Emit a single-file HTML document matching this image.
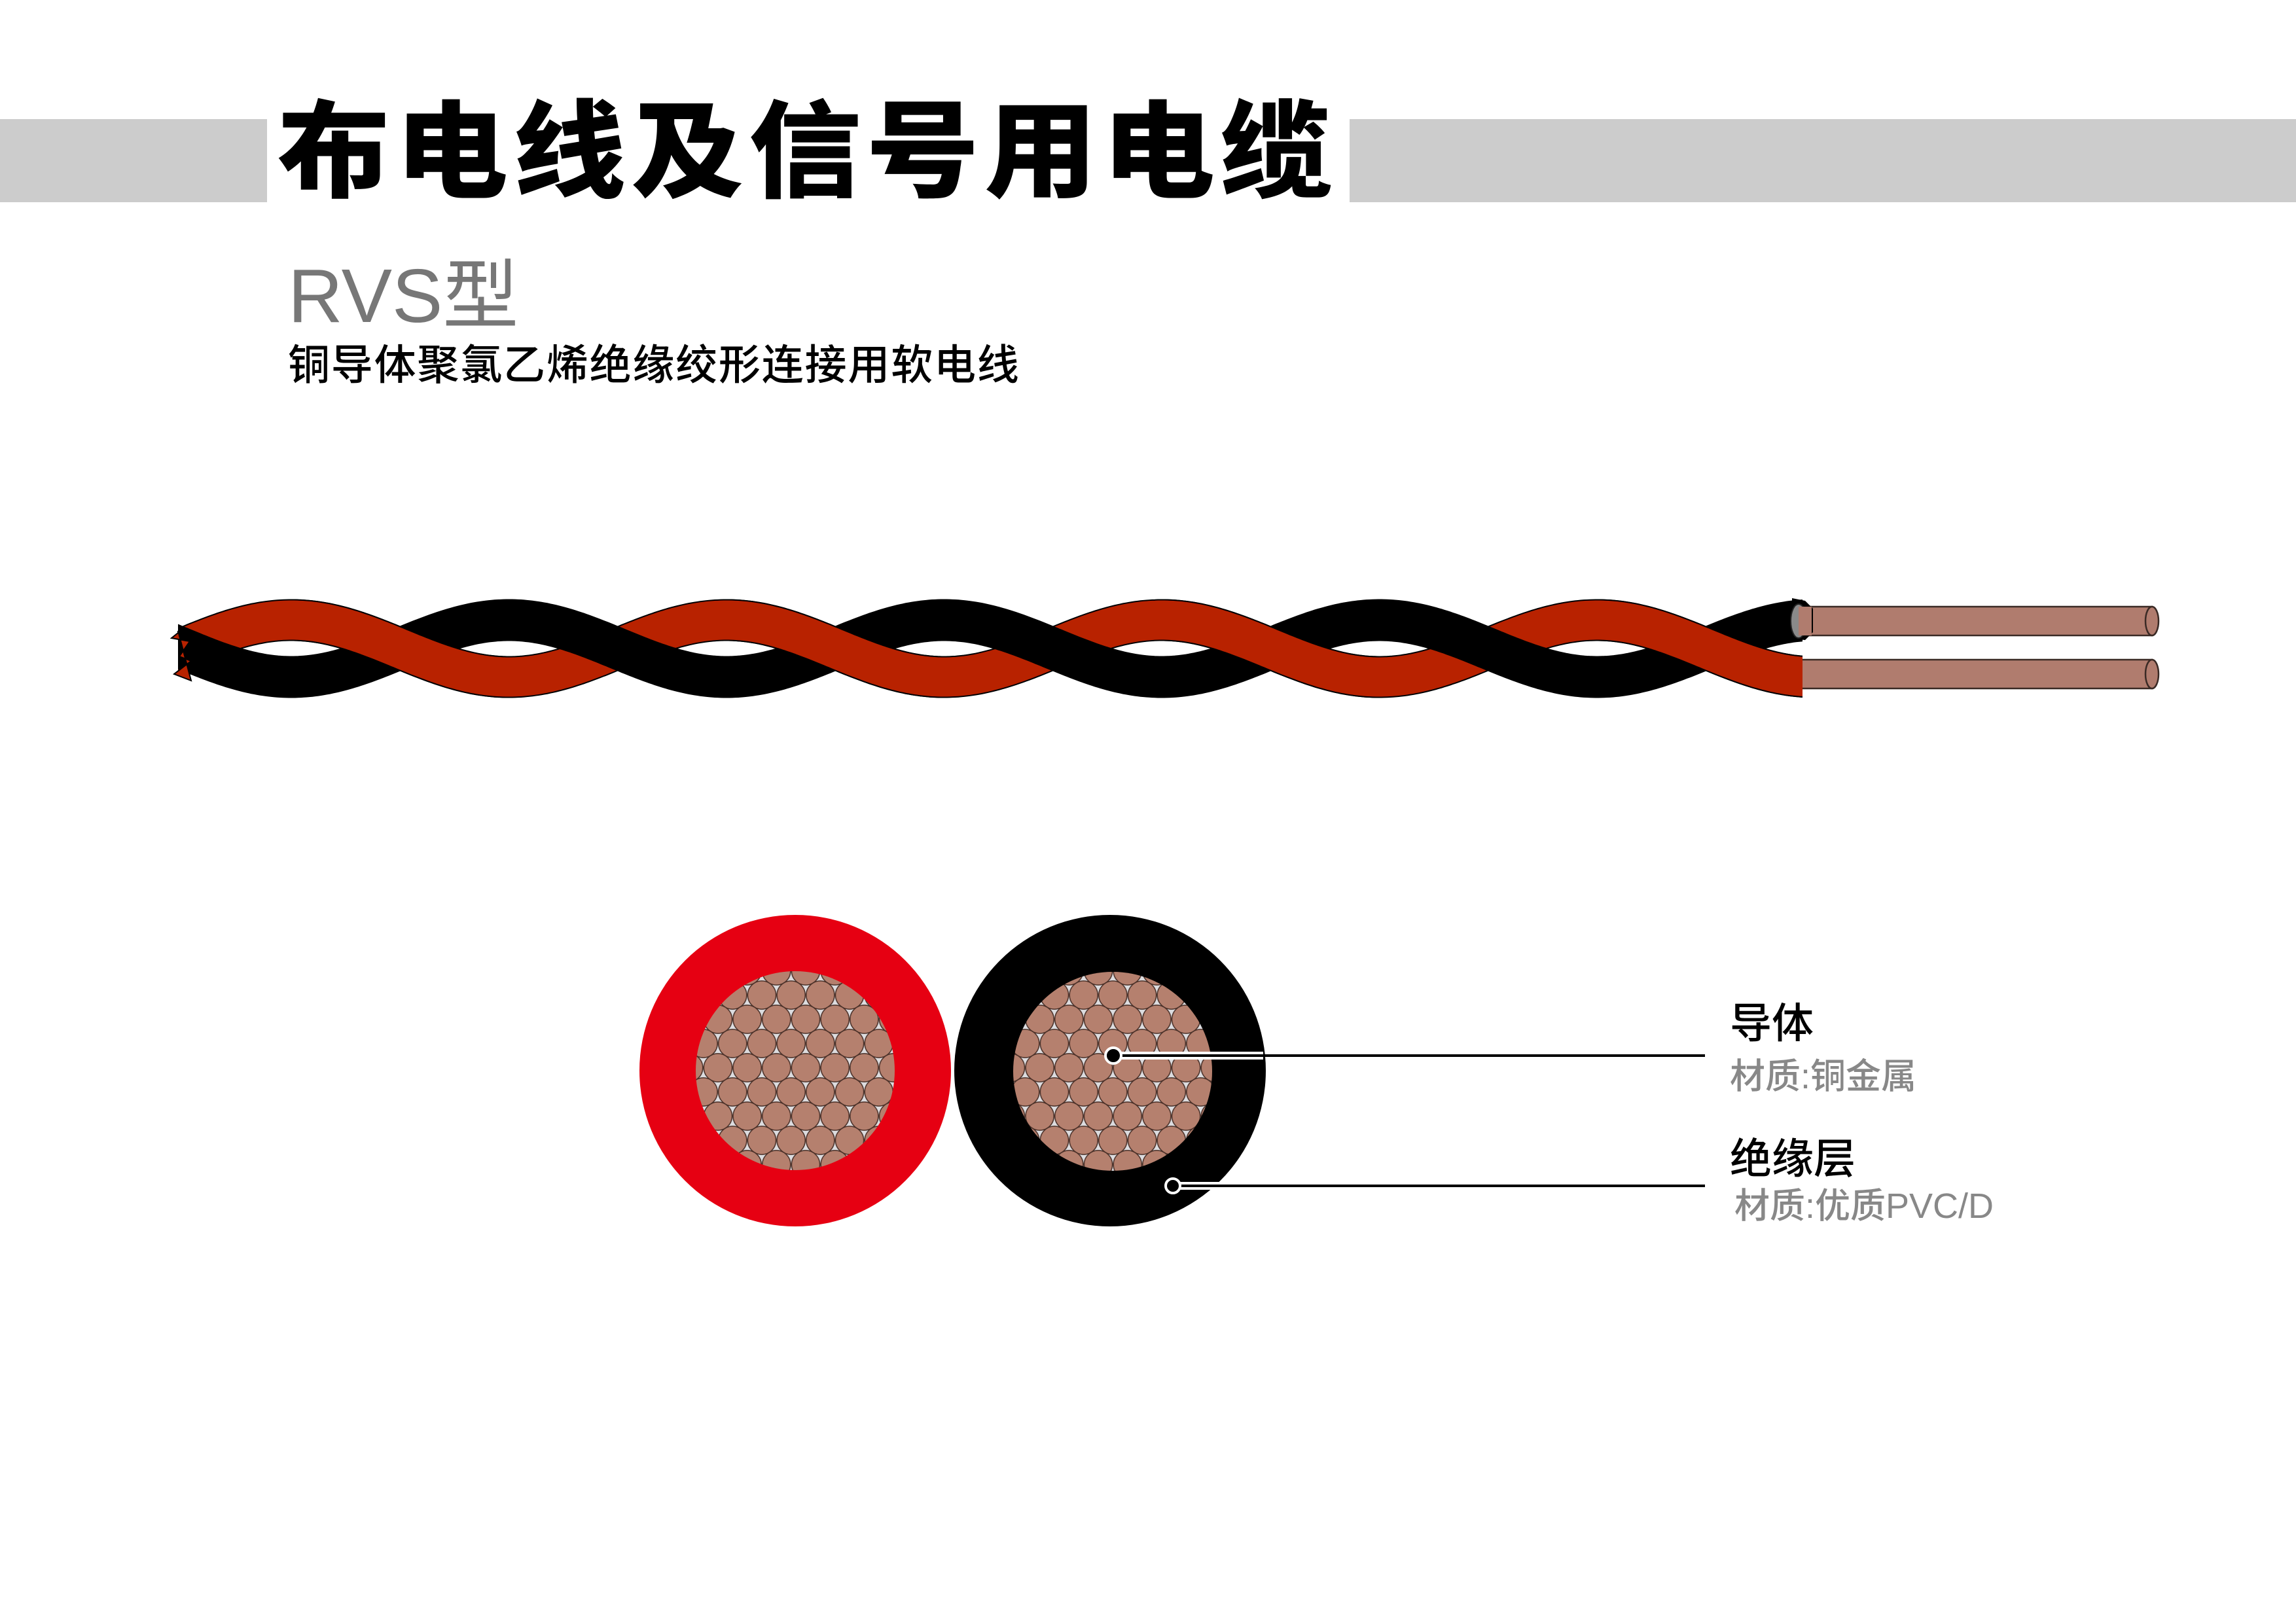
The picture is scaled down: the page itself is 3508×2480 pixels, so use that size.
<!DOCTYPE html>
<html><head><meta charset="utf-8">
<style>
html,body{margin:0;padding:0;background:#fff;}
body{width:3508px;height:2480px;position:relative;overflow:hidden;}
.t{position:absolute;white-space:nowrap;}
</style></head>
<body>
<div style="position:absolute;left:0;top:182px;width:408px;height:127px;background:#cccccc"></div>
<div style="position:absolute;left:2062px;top:182px;width:1446px;height:127px;background:#cccccc"></div>
<div class="t" style="left:424px;top:124px;font-family:'Noto Sans CJK SC','WenQuanYi Zen Hei',sans-serif;font-weight:900;font-size:172px;line-height:200px;letter-spacing:8px;color:#000;transform:scaleY(0.94);transform-origin:left top;">布电线及信号用电缆</div>
<div class="t" style="left:440px;top:382px;font-family:'Liberation Sans','Noto Sans CJK SC',sans-serif;font-size:116px;line-height:140px;color:#777;">RVS型</div>
<div class="t" style="left:440px;top:518px;font-family:'Liberation Sans','Noto Sans CJK SC',sans-serif;font-size:64px;line-height:80px;letter-spacing:1.8px;color:#000;font-weight:500;">铜导体聚氯乙烯绝缘绞形连接用软电线</div>

<svg id="cab" width="3508" height="2480" style="position:absolute;left:0;top:0" xmlns="http://www.w3.org/2000/svg">
<defs>
<clipPath id="cc"><rect x="272" y="850" width="2482" height="260"/></clipPath>
<pattern id="cu" patternUnits="userSpaceOnUse" x="1678" y="1576" width="44.7" height="74">
<rect width="44.7" height="74" fill="#dcdcdf"/>
<circle cx="22.35" cy="18.5" r="21.6" fill="#b5806e" stroke="#4a3028" stroke-width="1.5"/>
<circle cx="0" cy="55.5" r="21.6" fill="#b5806e" stroke="#4a3028" stroke-width="1.5"/>
<circle cx="44.7" cy="55.5" r="21.6" fill="#b5806e" stroke="#4a3028" stroke-width="1.5"/>
<circle cx="0" cy="-18.5" r="21.6" fill="#b5806e" stroke="#4a3028" stroke-width="1.5"/>
<circle cx="44.7" cy="-18.5" r="21.6" fill="#b5806e" stroke="#4a3028" stroke-width="1.5"/>
<circle cx="22.35" cy="92.5" r="21.6" fill="#b5806e" stroke="#4a3028" stroke-width="1.5"/>
</pattern>
</defs>
<g stroke="#3a2a25" stroke-width="2.5" fill="#b07c6e">
<rect x="2742" y="927" width="546" height="44"/>
<ellipse cx="3288" cy="949" rx="10" ry="22"/>
<rect x="2742" y="1008" width="546" height="44"/>
<ellipse cx="3288" cy="1030" rx="10" ry="22"/>
</g>
<g id="strands" clip-path="url(#cc)"></g>
<path d="M2738 914 L2758 918 L2770 930 L2770 966 L2758 978 L2738 976 Z" fill="#000"/>
<ellipse cx="2748" cy="949" rx="12" ry="26" fill="#8a8a8a" stroke="#222" stroke-width="2"/>
<rect x="2748" y="927" width="20" height="44" fill="#b07c6e"/>
<path d="M272 967 L262 975 L290 980 L274 1003 L292 1010 L266 1030 L292 1040 L272 964 Z" fill="#b82200" stroke="#000" stroke-width="2"/>

<circle cx="1215" cy="1636" r="238" fill="#e60012"/>
<circle cx="1215" cy="1636" r="152" fill="url(#cu)"/>
<circle cx="1696" cy="1636" r="238" fill="#000"/>
<circle cx="1700" cy="1637" r="152" fill="url(#cu)"/>
<line x1="1701" y1="1613" x2="1930" y2="1613" stroke="#fff" stroke-width="12"/>
<line x1="1701" y1="1613" x2="2605" y2="1613" stroke="#000" stroke-width="4"/>
<circle cx="1701" cy="1613" r="12" fill="#000" stroke="#fff" stroke-width="4"/>
<line x1="1792" y1="1812" x2="1880" y2="1812" stroke="#fff" stroke-width="12"/>
<line x1="1792" y1="1812" x2="2605" y2="1812" stroke="#000" stroke-width="4"/>
<circle cx="1792" cy="1812" r="11" fill="#000" stroke="#fff" stroke-width="4"/>
</svg>

<div class="t" style="left:2643px;top:1526px;font-family:'Liberation Sans','Noto Sans CJK SC',sans-serif;font-size:64px;line-height:76px;color:#000;font-weight:500;">导体</div>
<div class="t" style="left:2643px;top:1612px;font-family:'Liberation Sans','Noto Sans CJK SC',sans-serif;font-size:54px;line-height:66px;color:#888;font-weight:500;">材质:铜金属</div>
<div class="t" style="left:2643px;top:1733px;font-family:'Liberation Sans','Noto Sans CJK SC',sans-serif;font-size:64px;line-height:76px;color:#000;font-weight:500;">绝缘层</div>
<div class="t" style="left:2650px;top:1810px;font-family:'Liberation Sans','Noto Sans CJK SC',sans-serif;font-size:54px;line-height:66px;color:#888;font-weight:500;">材质:优质PVC/D</div>

<script>
(function(){
var c=991,A=43.5,P=665,x0=445,w=60;
function path(sign,a,b){var d='';for(var x=a;x<=b+0.01;x+=4){var y=c+sign*(-A)*Math.cos(2*Math.PI*(x-x0)/P);d+=(d?'L':'M')+x.toFixed(1)+' '+y.toFixed(1);}return d;}
var g=document.getElementById('strands');var ns='http://www.w3.org/2000/svg';
function add(d,col,wd,cap){var p=document.createElementNS(ns,'path');p.setAttribute('d',d);p.setAttribute('fill','none');p.setAttribute('stroke',col);p.setAttribute('stroke-width',wd);p.setAttribute('stroke-linecap',cap||'butt');g.appendChild(p);}
var A0=250,B0=2760;
add(path(1,A0,B0),'#000',w+4);add(path(1,A0,B0),'#b82200',w);
add(path(-1,A0,B0),'#000',w+4);
for(var k=-1;k<6;k++){var s=x0+k*P,e=s+P/2;if(e<A0||s>B0)continue;var ss=Math.max(s,A0),ee=Math.min(e,B0);var d=path(1,ss,ee);add(d,'#000',w+4);add(d,'#b82200',w);}
})();
</script>
</body></html>
